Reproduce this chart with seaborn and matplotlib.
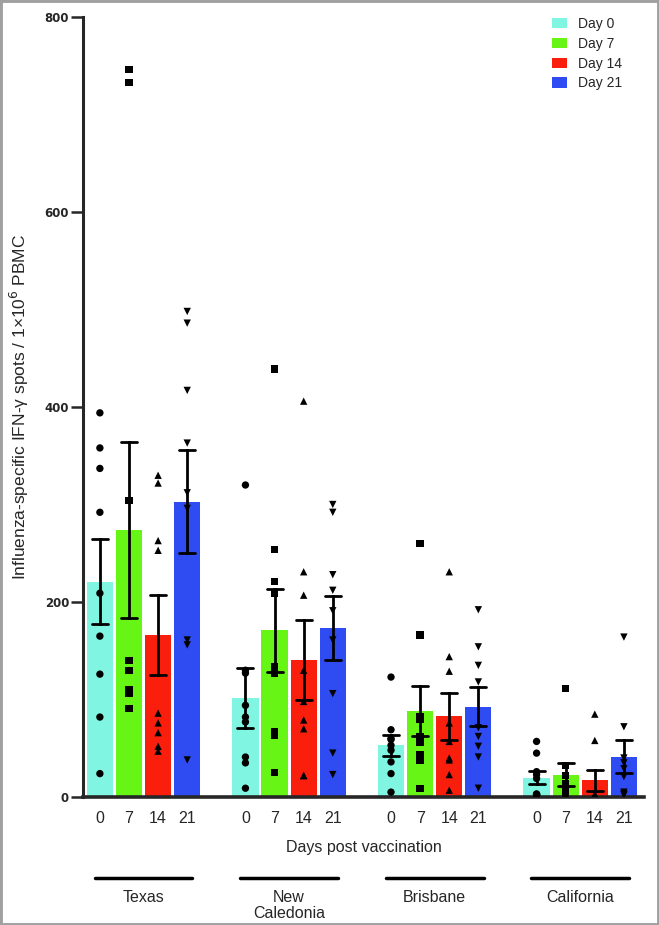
import numpy as np
import pandas as pd
import seaborn as sns
import matplotlib.pyplot as plt
import matplotlib.transforms as mtransforms
from matplotlib.patches import Rectangle

days = ['Day 0', 'Day 7', 'Day 14', 'Day 21']
day_ticks = ['0', '7', '14', '21']
strains = ['Texas', 'New\nCaledonia', 'Brisbane', 'California']
colors = ['#80f5e2', '#66f514', '#fa1e0c', '#2f4bf2']
markers = ['o', 's', '^', 'v']

# IFN-g spots per 1e6 PBMC, one list per day (0, 7, 14, 21)
texas = [
    [394, 358, 337, 292, 209, 165, 126, 82, 24],
    [746, 733, 304, 140, 130, 110, 106, 106, 91],
    [330, 322, 263, 253, 86, 76, 66, 52, 47],
    [498, 486, 417, 363, 312, 296, 161, 156, 38],
]
new_caledonia = [
    [320, 130, 127, 94, 82, 77, 41, 35, 9],
    [439, 254, 221, 209, 134, 127, 67, 63, 25],
    [406, 231, 207, 130, 98, 79, 70, 22, 22],
    [300, 292, 228, 212, 191, 161, 106, 45, 23],
]
brisbane = [
    [123, 69, 60, 59, 53, 48, 36, 24, 5],
    [260, 166, 82, 80, 62, 56, 43, 38, 9],
    [231, 144, 129, 76, 57, 40, 38, 23, 7],
    [192, 154, 135, 118, 71, 62, 52, 41, 9],
]
california = [
    [57, 45, 26, 23, 19, 3, 3, 2, 2],
    [111, 32, 22, 14, 10, 8, 5, 3, 2],
    [85, 58, 3, 2, 2, 1, 1, 1, 0],
    [164, 72, 40, 35, 29, 21, 5, 3, 2],
]

rows = []
for g, strain_data in enumerate([texas, new_caledonia, brisbane, california]):
    for i, vals in enumerate(strain_data):
        for v in vals:
            rows.append({'strain': strains[g], 'day': days[i], 'pos': g * 5 + i, 'value': v})
df = pd.DataFrame(rows)

sns.set_style('ticks')
plt.rcParams['font.family'] = ['Liberation Sans', 'DejaVu Sans']

fig = plt.figure(figsize=(6.59, 9.25), dpi=100)
ax = fig.add_axes([83 / 659, 1 - 797 / 925, 561 / 659, 780 / 925])

palette = dict(zip(days, colors))
sns.barplot(data=df, x='pos', y='value', hue='day', hue_order=days, palette=palette,
            saturation=1, native_scale=True, dodge=False, errorbar='se', capsize=0.55,
            width=0.9, linewidth=0, err_kws={'color': 'black', 'linewidth': 2}, ax=ax)
sns.scatterplot(data=df, x='pos', y='value', style='day', style_order=days,
                markers=dict(zip(days, markers)), color='black', s=28, linewidth=0,
                legend=False, ax=ax, zorder=4)

positions = sorted(df['pos'].unique())
ax.set_xlim(-0.58, 18.69)
ax.set_ylim(0, 800)
ax.set_xticks(positions)
ax.set_xticklabels(day_ticks * 4)
ax.set_yticks([0, 200, 400, 600, 800])
ax.tick_params(axis='x', length=0, labelsize=11.5, pad=10)
ax.tick_params(axis='y', length=9, width=1.8, labelsize=8.5, pad=1)
for lab in ax.get_yticklabels():
    lab.set_fontweight('heavy')
    lab.set_family('DejaVu Sans')
sns.despine(ax=ax)
ax.spines['left'].set_linewidth(2.2)
ax.spines['bottom'].set_linewidth(2.6)

ax.set_xlabel('Days post vaccination', fontsize=11.5, labelpad=10)
ax.set_ylabel('Influenza-specific IFN-\u03b3 spots / 1\u00d710$^{6}$ PBMC', fontsize=12.5,
              labelpad=10)

# strain labels under the axis
trans = mtransforms.blended_transform_factory(ax.transData, ax.transAxes)
for g, name in enumerate(strains):
    c = g * 5 + 1.5
    ax.plot([c - 1.68, c + 1.68], [-0.104, -0.104], transform=trans, color='black',
            lw=2.5, clip_on=False)
    ax.text(c, -0.119, name, transform=trans, ha='center', va='top', fontsize=11.5,
            linespacing=1.1)

sns.move_legend(ax, 'upper left', bbox_to_anchor=(552 / 659, 1 - 17 / 925),
                bbox_transform=fig.transFigure, frameon=False, title=None, fontsize=10,
                handlelength=1.1, handleheight=0.8, labelspacing=0.42, handletextpad=0.8,
                borderpad=0, borderaxespad=0)

fig.add_artist(Rectangle((0, 0), 1, 1, transform=fig.transFigure, fill=False,
                         edgecolor='#a0a0a0', linewidth=3.5))

fig.savefig('out.png', dpi=100)
